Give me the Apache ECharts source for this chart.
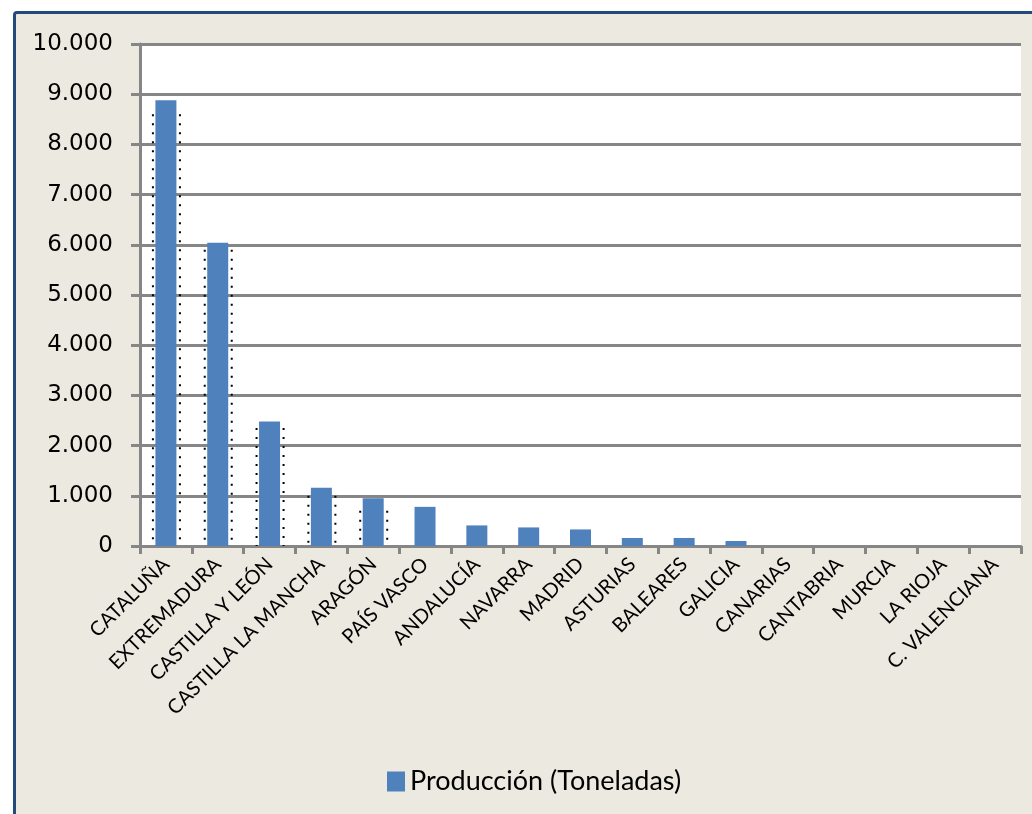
<!DOCTYPE html>
<html>
<head>
<meta charset="utf-8">
<script src="https://cdn.jsdelivr.net/npm/echarts@6/dist/echarts.min.js"></script>
<style>
html, body { margin: 0; padding: 0; background: #fff; overflow: hidden; }
#frame {
    position: absolute; left: 13px; top: 11px;
    width: 1100px; height: 900px;
    background: #eceae0;
    border: 3px solid #244a7c;
    border-radius: 4px 0 0 0;
}
#chart { position: absolute; left: 0; top: 0; width: 1032px; height: 814px; }
</style>
</head>
<body>
<div id="frame"></div>
<div id="chart"></div>
<script>
// regiones (eje x)
const regiones = [
    "CATALUÑA", "EXTREMADURA", "CASTILLA Y LEÓN", "CASTILLA LA MANCHA",
    "ARAGÓN", "PAÍS VASCO", "ANDALUCÍA", "NAVARRA", "MADRID", "ASTURIAS",
    "BALEARES", "GALICIA", "CANARIAS", "CANTABRIA", "MURCIA", "LA RIOJA",
    "C. VALENCIANA"
];
// producción en toneladas
const produccion = [8880, 6040, 2480, 1160, 950, 780, 410, 370, 330, 160, 160, 100, 0, 0, 0, 0, 0];
// altura de las líneas punteadas (sombra) junto a las barras
const sombra = [8600, 5900, 2350, 1000, 700, 0, 0, 0, 0, 0, 0, 0, 0, 0, 0, 0, 0];

const gris = "#868686";

let chart = echarts.init(document.getElementById("chart"));

// separador de miles con punto
function miles(v) {
    return String(v).replace(/\B(?=(\d{3})+(?!\d))/g, ".");
}

let option = {
    backgroundColor: "transparent",
    animation: false,
    grid: {
        left: 140,
        right: 11,
        top: 44,
        bottom: 268,
        show: true,
        backgroundColor: "#fff",
        borderWidth: 0,
    },
    legend: {
        data: ["Producción (Toneladas)"],
        left: 382,
        top: 763,
        icon: "rect",
        itemWidth: 18,
        itemHeight: 20,
        textStyle: {
            fontFamily: "Lato",
            fontSize: 27,
            color: "#000",
        },
    },
    xAxis: {
        type: "category",
        data: regiones,
        axisLine: { lineStyle: { color: gris, width: 3 } },
        axisTick: { show: true, length: 8, lineStyle: { color: gris, width: 3 } },
        axisLabel: {
            rotate: 45,
            interval: 0,
            margin: 15,
            fontFamily: "Lato",
            fontSize: 20,
            color: "#000",
        },
    },
    yAxis: {
        type: "value",
        min: 0,
        max: 10000,
        interval: 1000,
        axisLine: { show: true, lineStyle: { color: gris, width: 3 } },
        axisTick: { show: true, length: 9, lineStyle: { color: gris, width: 3 } },
        splitLine: { lineStyle: { color: gris, width: 3 } },
        axisLabel: {
            margin: 27,
            fontFamily: "DejaVu Sans",
            fontSize: 23,
            color: "#000",
            formatter: miles,
        },
    },
    series: [
        {
            name: "Sombra",
            type: "custom",
            z: 1,
            silent: true,
            data: sombra.map((v, i) => [i, v]),
            renderItem(params, api) {
                let v = api.value(1);
                if (!v) return null;
                let top = api.coord([api.value(0), v]);
                let base = api.coord([api.value(0), 0]);
                let style = { stroke: "#000", lineWidth: 2, lineDash: [2, 7] };
                return {
                    type: "group",
                    children: [-13, 14].map((dx) => ({
                        type: "line",
                        shape: { x1: top[0] + dx, y1: top[1], x2: base[0] + dx, y2: base[1] },
                        style: style,
                    })),
                };
            },
        },
        {
            name: "Producción (Toneladas)",
            type: "bar",
            z: 3,
            data: produccion,
            barWidth: 21,
            itemStyle: { color: "#4f81bd" },
        },
    ],
};
chart.setOption(option);
</script>
</body>
</html>
